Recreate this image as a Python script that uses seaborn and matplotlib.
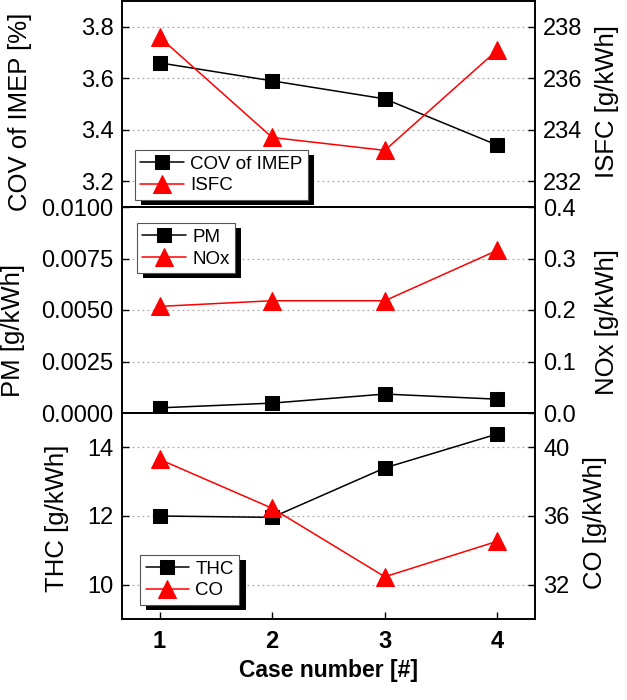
import matplotlib
matplotlib.use("Agg")
import matplotlib.pyplot as plt
import matplotlib.patheffects as pe
import seaborn as sns
import numpy as np

# ---- data ----
cases = [1, 2, 3, 4]
cov_imep = [3.66, 3.59, 3.52, 3.34]
isfc = [237.6, 233.7, 233.2, 237.1]
pm = [0.00025, 0.00048, 0.00092, 0.00067]
nox = [0.207, 0.218, 0.218, 0.316]
thc = [12.0, 11.96, 13.40, 14.39]
co = [39.3, 36.45, 32.46, 34.53]

x_ticks = [1, 2, 3, 4]
cov_ticks = [3.2, 3.4, 3.6, 3.8]
isfc_ticks = [232, 234, 236, 238]
pm_ticks = [0.0, 0.0025, 0.0050, 0.0075, 0.0100]
nox_ticks = [0.0, 0.1, 0.2, 0.3, 0.4]
thc_ticks = [10, 12, 14]
co_ticks = [32, 36, 40]

sns.set_theme(style="white")
plt.rcParams["font.family"] = ["Liberation Sans", "DejaVu Sans"]
plt.rcParams.update({
    "xtick.direction": "in", "ytick.direction": "in",
    "xtick.major.size": 5, "ytick.major.size": 5,
    "xtick.major.width": 1.0, "ytick.major.width": 1.0,
    "axes.linewidth": 1.2, "axes.edgecolor": "black",
    "xtick.color": "black", "ytick.color": "black",
    "text.color": "black", "axes.labelcolor": "black",
})

fig = plt.figure(figsize=(6.27, 7.0), dpi=100)
L, W = 122 / 627, 413 / 627
H = 206 / 700
ax_top = fig.add_axes([L, 1 - 207 / 700, W, 207 / 700 - 0.0015])
ax_mid = fig.add_axes([L, 1 - 413 / 700, W, H])
ax_bot = fig.add_axes([L, 1 - 619 / 700, W, H])

TICK_FS = 17
LABEL_FS = 18.5
LEG_FS = 13.5
SQ_MS = 10.5
TRI_MS = 13.5

def draw_panel(ax, y1, y2, lab1, lab2, ylim1, ylim2, ticks1, ticks2, fmt1, fmt2,
               leg_loc, leg_anchor):
    sns.lineplot(x=cases, y=y1, ax=ax, color="black", marker="s", markersize=SQ_MS,
                 markeredgecolor="black", markerfacecolor="black", linewidth=1.1,
                 label=lab1, legend=False)
    ax2 = ax.twinx()
    sns.lineplot(x=cases, y=y2, ax=ax2, color="red", marker="^", markersize=TRI_MS,
                 markeredgecolor="red", markerfacecolor="red", linewidth=1.1,
                 label=lab2, legend=False)
    ax.set_xlim(2 / 3, 4 + 1 / 3)
    ax.set_ylim(*ylim1)
    ax2.set_ylim(*ylim2)
    ax.set_yticks(ticks1)
    ax.set_yticklabels([fmt1.format(t) for t in ticks1], fontsize=TICK_FS)
    ax2.set_yticks(ticks2)
    ax2.set_yticklabels([fmt2.format(t) for t in ticks2], fontsize=TICK_FS)
    ax.tick_params(axis="y", pad=6, left=True)
    ax2.tick_params(axis="y", pad=6, right=True)
    for t in ticks1:
        if ylim1[0] < t < ylim1[1]:
            ax.axhline(t, color="#aaaaaa", linestyle=(0, (1.5, 2.5)), linewidth=0.9, zorder=0)
    for s in ax2.spines.values():
        s.set_linewidth(1.2)
    handles = ax.get_lines()[:1] + ax2.get_lines()[:1]
    leg = ax2.legend(handles, [lab1, lab2], loc=leg_loc, bbox_to_anchor=leg_anchor,
                     borderaxespad=0, fontsize=LEG_FS, frameon=True, fancybox=False,
                     handlelength=2.3, handletextpad=0.35, labelspacing=0.25,
                     borderpad=0.3, framealpha=1, markerscale=0.95)
    fr = leg.get_frame()
    fr.set_edgecolor("#555555")
    fr.set_linewidth(0.8)
    fr.set_path_effects([pe.SimplePatchShadow(offset=(4.5, -3.5), shadow_rgbFace="black", alpha=1),
                         pe.Normal()])
    return ax2

a2_top = draw_panel(ax_top, cov_imep, isfc, "COV of IMEP", "ISFC", (3.1, 3.9), (231, 239),
                    cov_ticks, isfc_ticks, "{:.1f}", "{:.0f}",
                    "lower left", (0.031, 0.034))
a2_mid = draw_panel(ax_mid, pm, nox, "PM", "NOx", (0.0, 0.01), (0.0, 0.4),
                    pm_ticks, nox_ticks, "{:.4f}", "{:.1f}",
                    "upper left", (0.036, 0.922))
a2_bot = draw_panel(ax_bot, thc, co, "THC", "CO", (9, 15), (30, 42),
                    thc_ticks, co_ticks, "{:.0f}", "{:.0f}",
                    "lower left", (0.044, 0.068))

# y labels
ax_top.set_ylabel("COV of IMEP [%]", fontsize=LABEL_FS)
ax_top.yaxis.set_label_coords(-0.218, 0.46)
a2_top.set_ylabel("ISFC [g/kWh]", fontsize=LABEL_FS)
a2_top.yaxis.set_label_coords(1.145, 0.51)
ax_mid.set_ylabel("PM [g/kWh]", fontsize=LABEL_FS)
ax_mid.yaxis.set_label_coords(-0.235, 0.40)
a2_mid.set_ylabel("NOx [g/kWh]", fontsize=LABEL_FS)
a2_mid.yaxis.set_label_coords(1.145, 0.44)
ax_bot.set_ylabel("THC [g/kWh]", fontsize=LABEL_FS)
ax_bot.yaxis.set_label_coords(-0.128, 0.49)
a2_bot.set_ylabel("CO [g/kWh]", fontsize=LABEL_FS)
a2_bot.yaxis.set_label_coords(1.116, 0.47)

# x axis
for ax in (ax_top, ax_mid, a2_top, a2_mid):
    ax.tick_params(axis="x", bottom=False, labelbottom=False, top=False)
for ax in (ax_top, ax_mid, ax_bot):
    ax.set_xlim(2 / 3, 4 + 1 / 3)
ax_bot.set_xticks(x_ticks)
ax_bot.set_xticklabels([str(t) for t in x_ticks], fontsize=TICK_FS, fontweight="bold")
ax_bot.tick_params(axis="x", bottom=True, pad=8)
a2_bot.tick_params(axis="x", bottom=False)
ax_bot.set_xlabel("Case number [#]", fontsize=16.5, fontweight="bold", labelpad=4)

fig.savefig("out.png", dpi=100)
